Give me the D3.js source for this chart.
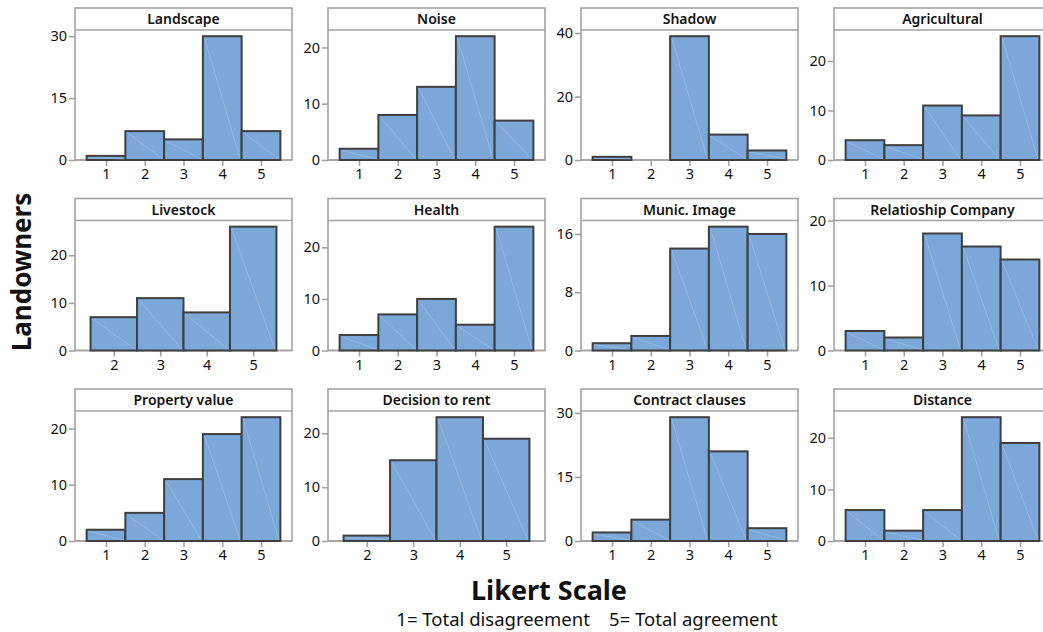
<!DOCTYPE html>
<html>
<head>
<meta charset="utf-8">
<script src="https://cdn.jsdelivr.net/npm/d3@7"></script>
<style>
  html, body { margin: 0; padding: 0; background: #fff; }
  svg { display: block; font-family: "Noto Sans", "Open Sans", sans-serif; }
</style>
</head>
<body>
<div id="chart"></div>
<script>
// panel titles, in reading order (4 columns x 3 rows)
const titles = ['Landscape', 'Noise', 'Shadow', 'Agricultural',
  'Livestock', 'Health', 'Munic. Image', 'Relatioship Company',
  'Property value', 'Decision to rent', 'Contract clauses', 'Distance']

// likert categories present in each panel
const categories = [
  [1, 2, 3, 4, 5], [1, 2, 3, 4, 5], [1, 2, 3, 4, 5], [1, 2, 3, 4, 5],
  [2, 3, 4, 5], [1, 2, 3, 4, 5], [1, 2, 3, 4, 5], [1, 2, 3, 4, 5],
  [1, 2, 3, 4, 5], [2, 3, 4, 5], [1, 2, 3, 4, 5], [1, 2, 3, 4, 5]
]

// number of landowners per category
const counts = [
  [1, 7, 5, 30, 7], [2, 8, 13, 22, 7], [1, 0, 39, 8, 3], [4, 3, 11, 9, 25],
  [7, 11, 8, 26], [3, 7, 10, 5, 24], [1, 2, 14, 17, 16], [3, 2, 18, 16, 14],
  [2, 5, 11, 19, 22], [1, 15, 23, 19], [2, 5, 29, 21, 3], [6, 2, 6, 24, 19]
]

// y tick labels per panel
const yTicks = [
  [0, 15, 30], [0, 10, 20], [0, 20, 40], [0, 10, 20],
  [0, 10, 20], [0, 10, 20], [0, 8, 16], [0, 10, 20],
  [0, 10, 20], [0, 10, 20], [0, 15, 30], [0, 10, 20]
]

const W = 1043, H = 632
const lay = {
  left: 75,     // first panel left
  colStep: 253,
  pw: 217,      // panel width
  top: 8,       // first panel top
  rowStep: 190.5,
  ph: 152,      // top of frame to baseline
  hh: 22,       // header strip height
}
const frameCol = '#a3a3a3'
const barFill = '#7ba7d9'
const barStroke = '#3f3f3f'
const textCol = '#111'

const svg = d3.select('#chart').append('svg')
  .attr('width', W)
  .attr('height', H)
  .attr('viewBox', [0, 0, W, H])

titles.forEach((title, i) => {
  const col = i % 4, row = Math.floor(i / 4)
  const x0 = lay.left + col * lay.colStep
  const y0 = lay.top + row * lay.rowStep
  const base = y0 + lay.ph
  const plotTop = y0 + lay.hh

  const cats = categories[i]
  const vals = counts[i]
  const n = cats.length
  const pad = 0.3 + (5 - n) * 0.035 // bin units on each side

  const x = d3.scaleLinear()
    .domain([d3.min(cats) - 0.5 - pad, d3.max(cats) + 0.5 + pad])
    .range([x0, x0 + lay.pw])
  const yMax = Math.max(d3.max(vals) * 1.05, d3.max(yTicks[i]))
  const y = d3.scaleLinear()
    .domain([0, yMax])
    .range([base, plotTop])

  const g = svg.append('g').attr('class', 'panel')

  // frame + header strip
  g.append('rect')
    .attr('x', x0).attr('y', y0)
    .attr('width', lay.pw).attr('height', lay.ph)
    .attr('fill', 'none')
    .attr('stroke', frameCol)
    .attr('stroke-width', 1.6)
  g.append('line')
    .attr('x1', x0).attr('x2', x0 + lay.pw)
    .attr('y1', plotTop).attr('y2', plotTop)
    .attr('stroke', frameCol)
    .attr('stroke-width', 1.6)
  g.append('text')
    .attr('x', x0 + lay.pw / 2)
    .attr('y', y0 + lay.hh / 2)
    .attr('dy', '.36em')
    .attr('text-anchor', 'middle')
    .attr('font-size', 14)
    .attr('font-weight', 600)
    .attr('fill', textCol)
    .text(title)

  // axes
  const yAxis = d3.axisLeft(y).tickValues(yTicks[i]).tickSize(6).tickPadding(2)
  const ya = g.append('g')
    .attr('transform', `translate(${x0},0)`)
    .call(yAxis)
  ya.select('.domain').remove()

  const xAxis = d3.axisBottom(x).tickValues(cats).tickSize(6).tickPadding(3).tickFormat(d3.format('d'))
  const xa = g.append('g')
    .attr('transform', `translate(0,${base})`)
    .call(xAxis)
  xa.select('.domain').remove()

  g.selectAll('.tick line').attr('stroke', frameCol).attr('stroke-width', 1.6)
  g.selectAll('.tick text')
    .attr('font-size', 14.5)
    .attr('font-family', '"Noto Sans", sans-serif')
    .attr('fill', textCol)

  // baseline
  g.append('line')
    .attr('x1', x0).attr('x2', x0 + lay.pw)
    .attr('y1', base).attr('y2', base)
    .attr('stroke', frameCol)
    .attr('stroke-width', 1.6)

  // bars
  const bars = g.selectAll('.bar')
    .data(cats.map((c, k) => ({ c, v: vals[k] })))
    .enter()
  bars.append('rect')
    .attr('class', 'bar')
    .attr('x', d => x(d.c - 0.5))
    .attr('y', d => y(d.v))
    .attr('width', d => x(d.c + 0.5) - x(d.c - 0.5))
    .attr('height', d => y(0) - y(d.v))
    .attr('fill', barFill)
    .attr('stroke', barStroke)
    .attr('stroke-width', 2)
  // faint diagonal sheen inside each bar
  bars.filter(d => d.v > 0).append('line')
    .attr('x1', d => x(d.c - 0.5) + 1.5)
    .attr('y1', d => y(d.v) + 1.5)
    .attr('x2', d => x(d.c + 0.5) - 1.5)
    .attr('y2', d => y(0) - 1)
    .attr('stroke', '#ffffff')
    .attr('stroke-opacity', 0.28)
    .attr('stroke-width', 0.7)
})

// axis titles
svg.append('text')
  .attr('transform', 'translate(31,272) rotate(-90)')
  .attr('text-anchor', 'middle')
  .attr('font-size', 26)
  .attr('font-weight', 700)
  .attr('fill', textCol)
  .text('Landowners')

svg.append('text')
  .attr('x', 549).attr('y', 600)
  .attr('text-anchor', 'middle')
  .attr('font-size', 27)
  .attr('font-weight', 700)
  .attr('fill', textCol)
  .text('Likert Scale')

svg.append('text')
  .attr('x', 587).attr('y', 626)
  .attr('text-anchor', 'middle')
  .attr('font-size', 18.5)
  .attr('fill', textCol)
  .style('white-space', 'pre')
  .text('1= Total disagreement    5= Total agreement')
</script>
</body>
</html>
